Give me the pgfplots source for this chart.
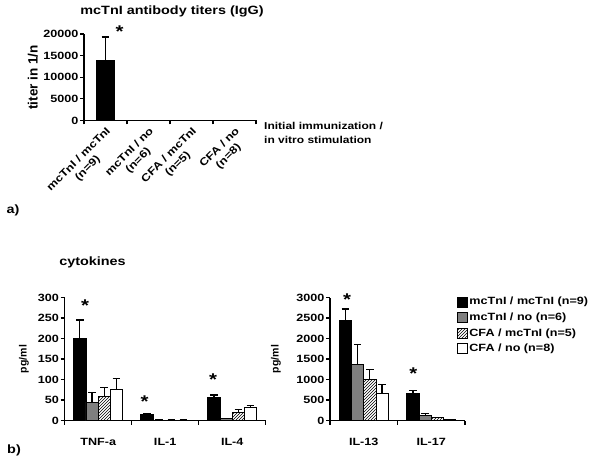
\documentclass[border=0pt]{standalone}
\usepackage{fontspec}
\setmainfont{Liberation Sans}[FakeStretch=1.2]
\newfontfamily\rotfont{Liberation Sans}
\usepackage{pgfplots}
\pgfplotsset{compat=1.18}
\usetikzlibrary{patterns}
\definecolor{midgray}{HTML}{7F7F7F}
\newcommand\fs[1]{\fontsize{#1}{#1}\selectfont\bfseries}
\pgfplotsset{
  base/.style={
    scale only axis, anchor=south west, clip=false,
    axis x line*=bottom, axis y line*=left,
    axis line style={line width=1.3pt},
    tick align=outside, major tick length=4pt,
    tick style={line width=1.1pt, black},
    scaled y ticks=false,
    /pgf/number format/assume math mode=true,
    /pgf/number format/1000 sep={},
    yticklabel style={font=\fs{10.5}, inner sep=1.5pt},
    x tick label as interval,
    ybar=0pt,
  },
  eb/.style={error bars/.cd, y dir=plus, y explicit,
    error bar style={line width=1.2pt, black},
    error mark options={line width=1.2pt, mark size=3.8pt, black, rotate=90}},
  sq/.style={legend image code/.code={\draw[##1, line width=0.8pt] (0pt,-5pt) rectangle (10pt,5pt);}},
  s1/.style={fill=black, draw=black, line width=0.8pt, sq, eb},
  s2/.style={fill=midgray, draw=black, line width=0.8pt, sq, eb},
  s3/.style={fill=white, draw=black, line width=0.8pt, postaction={pattern=north east lines}, sq, eb},
  s4/.style={fill=white, draw=black, line width=0.8pt, sq, eb},
}
\begin{document}
\begin{tikzpicture}
\path[use as bounding box] (0,0) rectangle (600pt,-473pt);
\node[font=\fs{12}] at (172pt,-11pt) {mcTnI antibody titers (IgG)};
\node[font=\fs{12}] at (92.5pt,-262pt) {cytokines};
\node[font=\fs{12}] at (13pt,-210pt) {a)};
\node[font=\fs{12}] at (14pt,-450pt) {b)};
\node[font=\fontsize{10}{14}\selectfont\bfseries, align=left, anchor=north west, inner sep=0pt] at (264pt,-122pt) {Initial immunization /\\in vitro stimulation};

% top panel
\begin{axis}[base, at={(84pt,-120.5pt)}, width=172pt, height=86.5pt,
  xmin=0, xmax=4, ymin=0, ymax=20000,
  ytick={0,5000,10000,15000,20000},
  xtick={0,1,2,3,4},
  xticklabels={{mcTnI / mcTnI\\(n=9)},{mcTnI / no\\(n=6)},{CFA / mcTnI\\(n=5)},{CFA / no\\(n=8)},{}},
  xticklabel style={font=\fontsize{10.5}{12.5}\selectfont\bfseries, align=center, rotate=45, anchor=north east, inner sep=1pt},
  ylabel={titer in 1/n},
  ylabel style={font=\rotfont\fontsize{13.5}{14}\selectfont\bfseries, at={(axis description cs:-0.297,0.5)}, anchor=center},
  bar width=18.3pt,
]
\addplot[s1] coordinates {(0.5,14000) +- (0,5300)};
\node[font=\fs{17}, anchor=north, inner sep=0pt] at (axis cs:0.83,21896) {*};
\end{axis}

% bottom left
\begin{axis}[base, at={(64.7pt,-420.5pt)}, width=201pt, height=123pt,
  xmin=0, xmax=3, ymin=0, ymax=300,
  ytick={0,50,...,300},
  xtick={0,1,2,3},
  xticklabels={TNF-a,IL-1,IL-4,{}},
  xticklabel style={font=\fs{10.5}, yshift=-10pt},
  ylabel={pg/ml},
  ylabel style={font=\rotfont\fontsize{10.5}{11}\selectfont\bfseries, at={(axis description cs:-0.2025,0.5)}, anchor=center},
  bar width=12.2pt,
]
\addplot[s1] coordinates {(0.5,200) +- (0,45) (1.5,14) +- (0,3) (2.5,57) +- (0,5)};
\addplot[s2] coordinates {(0.5,45) +- (0,24) (1.5,1) +- (0,0) (2.5,5) +- (0,0)};
\addplot[s3] coordinates {(0.5,59) +- (0,22) (1.5,1) +- (0,0) (2.5,19) +- (0,8)};
\addplot[s4] coordinates {(0.5,76) +- (0,26) (1.5,1) +- (0,0) (2.5,31) +- (0,6)};
\node[font=\fs{17}, anchor=north, inner sep=0pt] at (axis cs:0.303,294) {*};
\node[font=\fs{17}, anchor=north, inner sep=0pt] at (axis cs:1.191,60) {*};
\node[font=\fs{17}, anchor=north, inner sep=0pt] at (axis cs:2.213,115) {*};
\end{axis}

% bottom right
\begin{axis}[base, at={(330pt,-420.5pt)}, width=135pt, height=123pt,
  xmin=0, xmax=2, ymin=0, ymax=3000,
  ytick={0,500,...,3000},
  xtick={0,1,2},
  xticklabels={IL-13,IL-17,{}},
  xticklabel style={font=\fs{10.5}, yshift=-10pt},
  ylabel={pg/ml},
  ylabel style={font=\rotfont\fontsize{10.5}{11}\selectfont\bfseries, at={(axis description cs:-0.4,0.5)}, anchor=center},
  bar width=12.2pt,
  legend style={at={(axis description cs:0.94,1.015)}, anchor=north west, draw=none, fill=none,
    font=\fs{10.5}, row sep=3.5pt, inner sep=0pt, nodes={inner sep=1.5pt}},
  legend cell align=left,
]
\addplot[s1] coordinates {(0.5,2450) +- (0,270) (1.5,650) +- (0,75)};
\addplot[s2] coordinates {(0.5,1370) +- (0,480) (1.5,120) +- (0,60)};
\addplot[s3] coordinates {(0.5,1000) +- (0,240) (1.5,70) +- (0,0)};
\addplot[s4] coordinates {(0.5,660) +- (0,210) (1.5,20) +- (0,0)};
\legend{mcTnI / mcTnI (n=9),mcTnI / no (n=6),CFA / mcTnI (n=5),CFA / no (n=8)}
\node[font=\fs{17}, anchor=north, inner sep=0pt] at (axis cs:0.252,3102) {*};
\node[font=\fs{17}, anchor=north, inner sep=0pt] at (axis cs:1.234,1298) {*};
\end{axis}
\end{tikzpicture}
\end{document}
